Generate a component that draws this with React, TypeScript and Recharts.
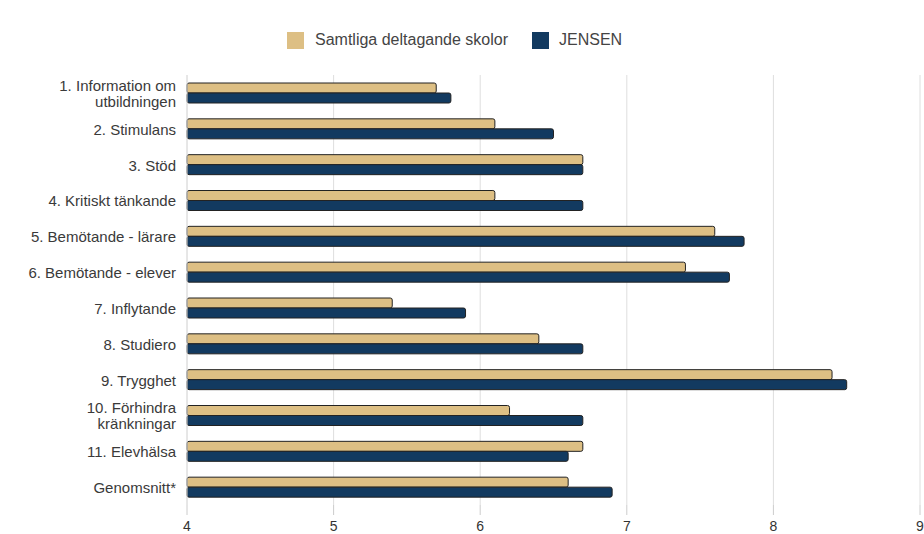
import { BarChart, Bar, XAxis, YAxis, CartesianGrid } from 'recharts'

const categories = [
  '1. Information om\nutbildningen',
  '2. Stimulans',
  '3. Stöd',
  '4. Kritiskt tänkande',
  '5. Bemötande - lärare',
  '6. Bemötande - elever',
  '7. Inflytande',
  '8. Studiero',
  '9. Trygghet',
  '10. Förhindra\nkränkningar',
  '11. Elevhälsa',
  'Genomsnitt*',
]
const samtliga = [5.7, 6.1, 6.7, 6.1, 7.6, 7.4, 5.4, 6.4, 8.4, 6.2, 6.7, 6.6]
const jensen = [5.8, 6.5, 6.7, 6.7, 7.8, 7.7, 5.9, 6.7, 8.5, 6.7, 6.6, 6.9]
const xTicks = [4, 5, 6, 7, 8, 9]

const TAN = '#DDBF84'
const NAVY = '#123A60'

const data = categories.map((c, i) => ({ name: c, samtliga: samtliga[i], jensen: jensen[i] }))

const LINE = 16

const CategoryTick = ({ x, y, payload }: { x?: number; y?: number; payload?: { value: string } }) => {
  const lines = String(payload?.value ?? '').split('\n')
  const offset = -((lines.length - 1) * LINE) / 2
  const tx = (x ?? 0) - 3
  return (
    <text x={tx} y={(y ?? 0) + offset} textAnchor="end" fill="#3a3a3a" fontSize={15} dominantBaseline="central">
      {lines.map((l, i) => (
        <tspan key={i} x={tx} dy={i === 0 ? 0 : LINE}>{l}</tspan>
      ))}
    </text>
  )
}

export default function App() {
  return (
    <div style={{ position: 'fixed', left: 0, top: 0, width: 924, height: 534, background: '#fff', fontFamily: '"Liberation Sans", Arial, sans-serif' }}>
      {/* legend drawn outside the chart so it doesn't push the plot down */}
      <div style={{ position: 'absolute', top: 31, left: 287, display: 'flex', alignItems: 'center', fontSize: 16, color: '#444', whiteSpace: 'nowrap' }}>
        <span style={{ width: 17, height: 17, background: TAN, display: 'inline-block', marginRight: 11 }} />
        <span style={{ marginRight: 24 }}>Samtliga deltagande skolor</span>
        <span style={{ width: 17, height: 17, background: NAVY, display: 'inline-block', marginRight: 10 }} />
        <span>JENSEN</span>
      </div>
      <BarChart
        width={924}
        height={534}
        data={data}
        layout="vertical"
        margin={{ top: 75, right: 4, left: 0, bottom: 4 }}
        barGap={0}
        barSize={10}
      >
        <CartesianGrid horizontal={false} stroke="#dedede" />
        <XAxis
          type="number"
          domain={[4, 9]}
          ticks={xTicks}
          interval={0}
          axisLine={false}
          tickLine={{ stroke: '#ccc' }}
          tickSize={10}
          tick={{ fill: '#333', fontSize: 14, dy: 4 }}
          height={25}
        />
        <YAxis
          type="category"
          dataKey="name"
          width={187}
          axisLine={{ stroke: '#dedede' }}
          tickLine={false}
          tick={<CategoryTick />}
          interval={0}
        />
        <Bar dataKey="samtliga" fill={TAN} stroke="#222" strokeWidth={1} radius={2} isAnimationActive={false} />
        <Bar dataKey="jensen" fill={NAVY} stroke="#222" strokeWidth={1} radius={2} isAnimationActive={false} />
      </BarChart>
    </div>
  )
}
